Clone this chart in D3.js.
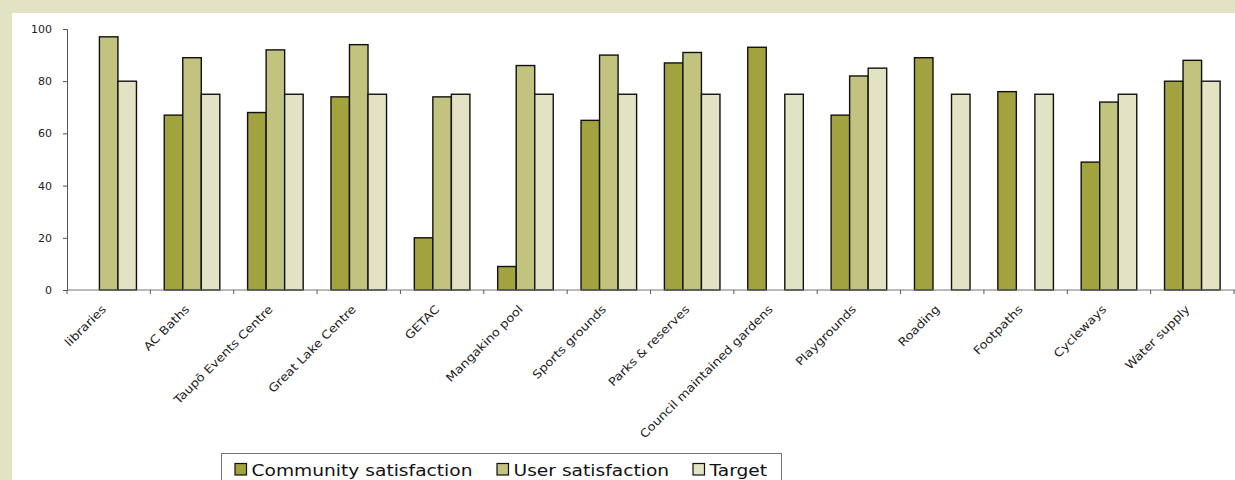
<!DOCTYPE html>
<html>
<head>
<meta charset="utf-8">
<script src="https://cdn.jsdelivr.net/npm/d3@7"></script>
<style>
  html, body { margin: 0; padding: 0; background: #E2E2C4; }
  svg { display: block; }
  text { font-family: "DejaVu Sans", Verdana, sans-serif; }
</style>
</head>
<body>
<svg id="chart" width="1235" height="480"></svg>
<script>
// Facilities and services surveyed
const categories = [
  "libraries", "AC Baths", "Taupō Events Centre", "Great Lake Centre", "GETAC",
  "Mangakino pool", "Sports grounds", "Parks & reserves", "Council maintained gardens",
  "Playgrounds", "Roading", "Footpaths", "Cycleways", "Water supply"
];

const seriesNames = ["Community satisfaction", "User satisfaction", "Target"];

// Percent satisfied (null = not surveyed)
const community = [null, 67, 68, 74, 20, 9, 65, 87, 93, 67, 89, 76, 49, 80];
const user      = [97, 89, 92, 94, 74, 86, 90, 91, null, 82, null, null, 72, 88];
const target    = [80, 75, 75, 75, 75, 75, 75, 75, 75, 85, 75, 75, 75, 80];

const yTicks = [0, 20, 40, 60, 80, 100];

const colors = ["#A2A23F", "#C3C380", "#E2E2C4"];
const seriesValues = [community, user, target];

// widen glyphs along the baseline for a Verdana-like set
const WIDEN = 1.13;

const svg = d3.select("#chart");

// white chart panel
svg.append("rect")
  .attr("x", 12).attr("y", 13)
  .attr("width", 1235 - 12).attr("height", 480 - 13)
  .attr("fill", "#fff");

const x = d3.scaleBand()
  .domain(categories)
  .range([67, 1234])
  .paddingInner(0).paddingOuter(0);

const xSub = d3.scaleBand()
  .domain(seriesNames)
  .range([0, x.bandwidth()])
  .paddingInner(0).paddingOuter(0.75);

const y = d3.scaleLinear().domain([0, 100]).range([290, 29]);

// bars
const rows = [];
categories.forEach((c, i) => {
  seriesNames.forEach((s, j) => {
    const v = seriesValues[j][i];
    if (v !== null) rows.push({ c, s, j, v });
  });
});

svg.append("g")
  .selectAll("rect")
  .data(rows)
  .join("rect")
  .attr("x", d => x(d.c) + xSub(d.s))
  .attr("y", d => y(d.v))
  .attr("width", xSub.bandwidth())
  .attr("height", d => y(0) - y(d.v))
  .attr("fill", d => colors[d.j])
  .attr("stroke", "#111")
  .attr("stroke-width", 1.4);

// y axis
const yAxis = svg.append("g")
  .attr("transform", "translate(67,0)")
  .call(d3.axisLeft(y).tickValues(yTicks).tickSize(4).tickPadding(11).tickFormat(d3.format("d")));
yAxis.select(".domain").attr("stroke", "#555");
yAxis.selectAll(".tick line").attr("stroke", "#555");
yAxis.selectAll("text").attr("font-size", 11).attr("fill", "#222")
  .attr("font-family", "DejaVu Sans, Verdana, sans-serif");

// x axis with ticks at category boundaries
const xAxis = svg.append("g").attr("transform", "translate(0,290)");
xAxis.append("line")
  .attr("x1", 67).attr("x2", 1235)
  .attr("y1", 0).attr("y2", 0)
  .attr("stroke", "#777").attr("stroke-width", 1.2);
const bounds = categories.map(c => x(c)).concat([x.range()[1]]);
xAxis.selectAll("line.tk")
  .data(bounds)
  .join("line")
  .attr("class", "tk")
  .attr("x1", d => d).attr("x2", d => d)
  .attr("y1", 0).attr("y2", 4)
  .attr("stroke", "#555");

// rotated category labels
svg.append("g")
  .selectAll("text")
  .data(categories)
  .join("text")
  .attr("transform", d => `translate(${x(d) + x.bandwidth() / 2 - 2},310) rotate(-45) scale(${WIDEN},1)`)
  .attr("text-anchor", "end")
  .attr("font-size", 11.5)
  .attr("fill", "#222")
  .text(d => d);

// legend
const legend = svg.append("g");
legend.append("rect")
  .attr("x", 221.5).attr("y", 453.5)
  .attr("width", 560).attr("height", 40)
  .attr("fill", "#fff")
  .attr("stroke", "#777").attr("stroke-width", 1);

const legendX = [235, 497, 693];
seriesNames.forEach((s, j) => {
  legend.append("rect")
    .attr("x", legendX[j]).attr("y", 463.5)
    .attr("width", 11.5).attr("height", 11.5)
    .attr("fill", colors[j])
    .attr("stroke", "#111").attr("stroke-width", 1.2);
  legend.append("text")
    .attr("transform", `translate(${legendX[j] + 16.5},475.5) scale(${WIDEN},1)`)
    .attr("font-size", 16.5)
    .attr("fill", "#111")
    .text(s);
});
</script>
</body>
</html>
